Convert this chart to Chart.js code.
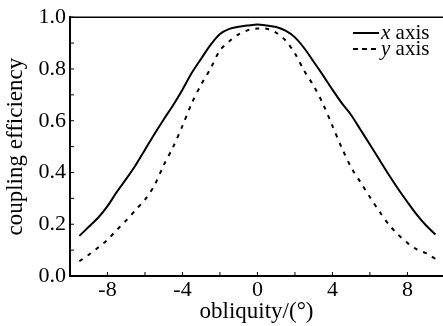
<!DOCTYPE html>
<html>
<head>
<meta charset="utf-8">
<script src="https://cdn.jsdelivr.net/npm/chart.js@4.4.0/dist/chart.umd.min.js"></script>
<style>
  html, body { margin: 0; padding: 0; background: #fff; }
</style>
</head>
<body>
<canvas id="chart" width="443" height="326"></canvas>
<script>
// Values
const obliquity = [-9.5, -9, -8.5, -8, -7.5, -7, -6.5, -6, -5.5, -5, -4.5, -4, -3.5, -3, -2.5, -2, -1.5, -1, -0.5, 0,
  0.5, 1, 1.5, 2, 2.5, 3, 3.5, 4, 4.5, 5, 5.5, 6, 6.5, 7, 7.5, 8, 8.5, 9, 9.5];
const xAxisEff = [0.155, 0.19, 0.225, 0.27, 0.325, 0.375, 0.428, 0.488, 0.548, 0.605, 0.66, 0.72, 0.785, 0.84, 0.893, 0.935, 0.955, 0.963, 0.968, 0.972,
  0.968, 0.962, 0.948, 0.922, 0.88, 0.828, 0.775, 0.72, 0.668, 0.622, 0.565, 0.508, 0.45, 0.392, 0.337, 0.286, 0.237, 0.195, 0.16];
const yAxisEff = [0.057, 0.082, 0.11, 0.14, 0.178, 0.215, 0.255, 0.295, 0.35, 0.428, 0.498, 0.58, 0.668, 0.74, 0.802, 0.872, 0.907, 0.934, 0.95, 0.956,
  0.955, 0.94, 0.91, 0.86, 0.792, 0.735, 0.665, 0.58, 0.495, 0.42, 0.362, 0.305, 0.25, 0.2, 0.16, 0.128, 0.103, 0.088, 0.066];
const seriesNames = ['x', 'y'];

const serif = "'Liberation Serif', 'Times New Roman', serif";
Chart.defaults.font.family = serif;
Chart.defaults.color = '#000';

// inward ticks, top frame line and the hand-made legend
const framePlugin = {
  id: 'frame',
  afterDraw(chart) {
    const ctx = chart.ctx;
    const area = chart.chartArea;
    const xs = chart.scales.x, ys = chart.scales.y;
    ctx.save();
    ctx.strokeStyle = '#000';
    ctx.lineWidth = 1.5;
    ctx.beginPath();
    ctx.moveTo(area.left, area.top);
    ctx.lineTo(area.right, area.top);
    ctx.stroke();

    ctx.lineWidth = 1;
    ys.ticks.forEach(t => {
      const py = ys.getPixelForValue(t.value);
      ctx.beginPath();
      ctx.moveTo(area.left, py);
      ctx.lineTo(area.left + 4, py);
      ctx.stroke();
    });
    xs.ticks.forEach(t => {
      if (Math.abs(t.value % 2) > 1e-6) return;
      const px = xs.getPixelForValue(t.value);
      ctx.beginPath();
      ctx.moveTo(px, area.bottom);
      ctx.lineTo(px, area.bottom - 4);
      ctx.stroke();
    });

    // legend
    const lx = 353, lw = 26;
    const rows = [{ y: 33, dash: [] }, { y: 49, dash: [5, 4] }];
    rows.forEach((r, i) => {
      ctx.setLineDash(r.dash);
      ctx.lineWidth = 2;
      ctx.beginPath();
      ctx.moveTo(lx, r.y);
      ctx.lineTo(lx + lw, r.y);
      ctx.stroke();
      ctx.setLineDash([]);
      ctx.textBaseline = 'alphabetic';
      ctx.textAlign = 'left';
      ctx.font = 'italic 21px ' + serif;
      ctx.fillText(seriesNames[i], lx + lw + 2, r.y + 6);
      const w = ctx.measureText(seriesNames[i]).width;
      ctx.font = '21px ' + serif;
      ctx.fillText(' axis', lx + lw + 2 + w, r.y + 6);
    });
    ctx.restore();
  }
};

new Chart(document.getElementById('chart'), {
  type: 'line',
  data: {
    datasets: [{
      label: 'x axis',
      data: obliquity.map((v, i) => ({ x: v, y: xAxisEff[i] })),
      borderColor: '#000',
      borderWidth: 2,
      pointRadius: 0,
      tension: 0.3
    }, {
      label: 'y axis',
      data: obliquity.map((v, i) => ({ x: v, y: yAxisEff[i] })),
      borderColor: '#000',
      borderWidth: 2,
      borderDash: [4, 6],
      pointRadius: 0,
      tension: 0.3
    }]
  },
  options: {
    responsive: false,
    animation: false,
    layout: { padding: { top: 14, right: 0, left: 0, bottom: 0 } },
    plugins: {
      legend: { display: false },
      tooltip: { enabled: false }
    },
    scales: {
      x: {
        type: 'linear',
        min: -10,
        max: 9.9,
        afterFit: s => { s.height = 50; },
        grid: { display: false, drawTicks: false },
        border: { display: true, color: '#000', width: 2 },
        ticks: {
          stepSize: 2,
          includeBounds: false,
          autoSkip: false,
          maxRotation: 0,
          padding: 1,
          font: { size: 22 },
          callback: v => (Math.abs(v % 4) < 1e-6 ? String(v) : '')
        },
        title: {
          display: true,
          text: 'obliquity/(°)',
          font: { size: 23 },
          padding: { top: 0, bottom: 0 }
        }
      },
      y: {
        min: 0,
        max: 1,
        afterFit: s => { s.width = 70; },
        grid: { display: false, drawTicks: false },
        border: { display: true, color: '#000', width: 2 },
        ticks: {
          stepSize: 0.1,
          autoSkip: false,
          padding: 4,
          font: { size: 22 },
          callback: v => (Math.round(v * 10) % 2 === 0 ? v.toFixed(1) : '')
        },
        title: {
          display: true,
          text: 'coupling efficiency',
          font: { size: 23 },
          padding: { top: 2, bottom: 0 }
        }
      }
    }
  },
  plugins: [framePlugin]
});
</script>
</body>
</html>
